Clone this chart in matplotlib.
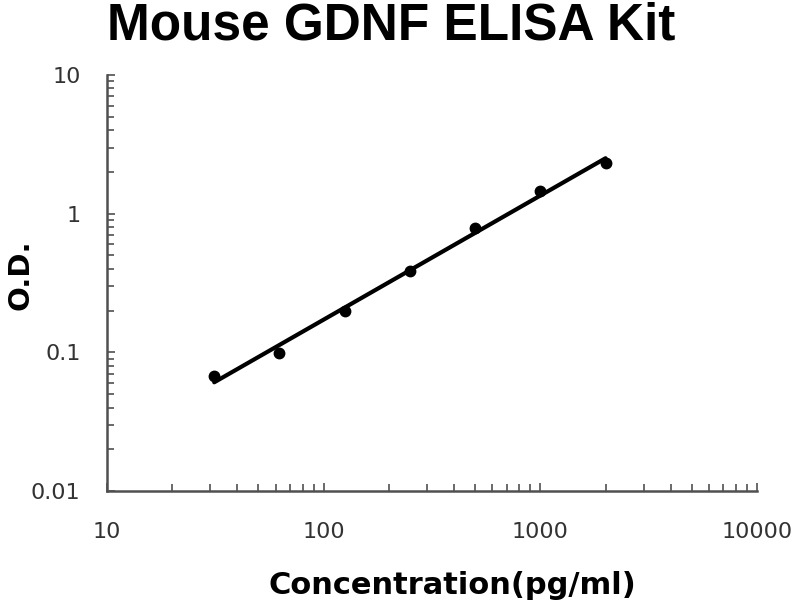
import numpy as np
import matplotlib
matplotlib.use("Agg")
import matplotlib.pyplot as plt
from matplotlib.ticker import LogLocator, NullFormatter

# Data
conc = [31.25, 62.5, 125, 250, 500, 1000, 2000]
od = [0.068, 0.099, 0.199, 0.386, 0.79, 1.46, 2.33]

x_ticks = [10, 100, 1000, 10000]
x_tick_labels = ["10", "100", "1000", "10000"]
y_ticks = [0.01, 0.1, 1, 10]
y_tick_labels = ["0.01", "0.1", "1", "10"]

title = "Mouse GDNF ELISA Kit"
xlabel = "Concentration(pg/ml)"
ylabel = "O.D."

# power-law trendline (linear fit in log-log space)
slope, intercept = np.polyfit(np.log10(conc), np.log10(od), 1)
fit_x = np.array([min(conc), max(conc)])
fit_y = 10 ** (intercept + slope * np.log10(fit_x))

fig = plt.figure(figsize=(8, 6), dpi=100)
ax = fig.add_axes([107 / 800, 1 - 491 / 600, 650 / 800, 416 / 600])

ax.plot(fit_x, fit_y, color="black", lw=3.0, solid_capstyle="round", zorder=2)
ax.plot(conc, od, "o", color="black", ms=7.5, zorder=3)

ax.set_xscale("log")
ax.set_yscale("log")
ax.set_xlim(10, 10000)
ax.set_ylim(0.01, 10)

ax.set_xticks(x_ticks, x_tick_labels)
ax.set_yticks(y_ticks, y_tick_labels)
ax.xaxis.set_minor_locator(LogLocator(base=10, subs=np.arange(2, 10)))
ax.yaxis.set_minor_locator(LogLocator(base=10, subs=np.arange(2, 10)))
ax.xaxis.set_minor_formatter(NullFormatter())
ax.yaxis.set_minor_formatter(NullFormatter())

axis_color = "#505050"
for side in ["top", "right"]:
    ax.spines[side].set_visible(False)
for side in ["left", "bottom"]:
    ax.spines[side].set_color(axis_color)
    ax.spines[side].set_linewidth(1.8)

ax.tick_params(axis="both", which="both", direction="in", color=axis_color,
               width=1.2, labelcolor="#333333", labelsize=16)
ax.tick_params(axis="both", which="major", length=6)
ax.tick_params(axis="both", which="minor", length=5)
ax.tick_params(axis="x", which="major", pad=22)
ax.tick_params(axis="y", which="major", pad=19)
for lbl in ax.get_xticklabels() + ax.get_yticklabels():
    lbl.set_family("DejaVu Sans")

ax.set_xlabel(xlabel, fontsize=22, fontweight="bold", family="DejaVu Sans", color="black")
ax.xaxis.set_label_coords((452 - 107) / 650, -0.192)
ax.set_ylabel(ylabel, fontsize=21, fontweight="bold", family="DejaVu Sans", color="black")
ax.yaxis.label.set_va("center")
ax.yaxis.set_label_coords(-(107 - 21) / 650, 0.52)

fig.text(391 / 800, 1 - 1 / 600, title, ha="center", va="top",
         fontsize=37, fontweight="bold", family="Liberation Sans", color="black")

fig.savefig("out.png", dpi=100, facecolor="white")
